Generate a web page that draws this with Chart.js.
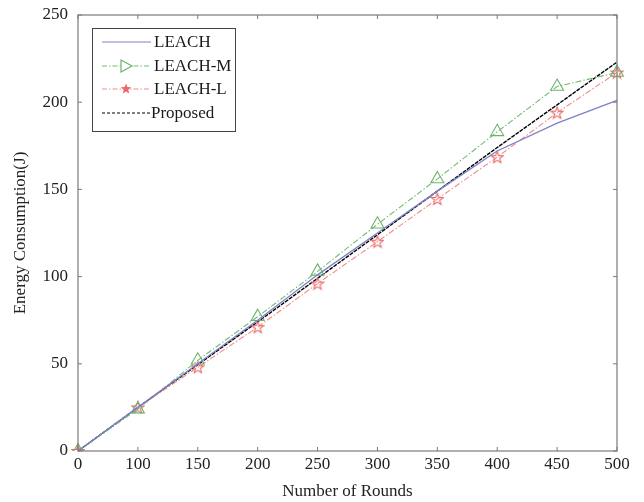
<!DOCTYPE html>
<html><head><meta charset="utf-8">
<script src="https://cdn.jsdelivr.net/npm/chart.js@4"></script>
<style>html,body{margin:0;padding:0;background:#fff;}#wrap{width:644px;height:502px;}</style>
</head><body><div id="wrap"><canvas id="c" width="644" height="502"></canvas></div>
<script>
const rounds = ['0','100','150','200','250','300','350','400','450','500'];
const leach  = [0, 25, 50, 75, 101, 125, 149, 172, 188, 201];
const leachM = [0, 24, 52, 77, 103, 130, 156, 183, 209, 217];
const leachL = [0, 25, 48, 71, 96, 120, 144.5, 168.5, 194, 217];
const proposed = [0, 25, 49.5, 74, 99, 124, 149, 174, 198.5, 223];
const yTicks = [0, 50, 100, 150, 200, 250];

const FONT = '"Liberation Serif", "Times New Roman", serif';

function starPath(ctx, cx, cy, R, r) {
  ctx.beginPath();
  for (let k = 0; k < 10; k++) {
    const rad = k % 2 === 0 ? R : r;
    const ang = -Math.PI / 2 + k * Math.PI / 5;
    const px = cx + rad * Math.cos(ang), py = cy + rad * Math.sin(ang);
    if (k === 0) ctx.moveTo(px, py); else ctx.lineTo(px, py);
  }
  ctx.closePath();
}
const starImg = document.createElement('canvas');
starImg.width = 14; starImg.height = 14;
(function () {
  const c = starImg.getContext('2d');
  c.strokeStyle = '#ec6a6a'; c.lineWidth = 1.1;
  starPath(c, 7, 7.5, 6.2, 2.6); c.stroke();
})();

const frame = {
  id: 'frame',
  afterDatasetsDraw(chart) {
    const {ctx, chartArea: a, scales} = chart;
    ctx.save();
    ctx.strokeStyle = '#7a7a7a';
    ctx.lineWidth = 1.2;
    ctx.strokeRect(a.left, a.top, a.right - a.left, a.bottom - a.top);
    ctx.lineWidth = 1;
    const L = 4;
    scales.x.ticks.forEach((t, i) => {
      const x = scales.x.getPixelForTick(i);
      ctx.beginPath();
      ctx.moveTo(x, a.bottom); ctx.lineTo(x, a.bottom - L);
      ctx.moveTo(x, a.top); ctx.lineTo(x, a.top + L);
      ctx.stroke();
    });
    scales.y.ticks.forEach((t, i) => {
      const y = scales.y.getPixelForTick(i);
      ctx.beginPath();
      ctx.moveTo(a.left, y); ctx.lineTo(a.left + L, y);
      ctx.moveTo(a.right, y); ctx.lineTo(a.right - L, y);
      ctx.stroke();
    });
    ctx.restore();
  },
  afterDraw(chart) {
    const ctx = chart.ctx;
    const bx = 92, by = 28, bw = 143, bh = 103;
    ctx.save();
    ctx.fillStyle = '#fff';
    ctx.fillRect(bx, by, bw, bh);
    ctx.strokeStyle = '#444';
    ctx.lineWidth = 1;
    ctx.strokeRect(bx + 0.5, by + 0.5, bw, bh);
    const rows = [42, 66, 89, 113];
    ctx.font = '17px ' + FONT;
    ctx.textBaseline = 'middle';
    chart.data.datasets.forEach((ds, i) => {
      const y = rows[i];
      ctx.strokeStyle = ds.borderColor;
      ctx.lineWidth = 1.2;
      ctx.setLineDash(i === 3 ? [3, 2] : (i === 0 ? [] : [5, 2, 1.5, 2]));
      ctx.beginPath(); ctx.moveTo(102, y); ctx.lineTo(151, y); ctx.stroke();
      ctx.setLineDash([]);
      if (i === 1) {
        ctx.strokeStyle = ds.pointBorderColor;
        ctx.beginPath();
        ctx.moveTo(121, y - 6); ctx.lineTo(132, y); ctx.lineTo(121, y + 6); ctx.closePath();
        ctx.fillStyle = '#fff'; ctx.fill(); ctx.stroke();
      }
      if (i === 2) {
        starPath(ctx, 126, y, 5.5, 2.4);
        ctx.fillStyle = '#ec6a6a'; ctx.fill();
      }
      ctx.fillStyle = '#1a1a1a';
      ctx.fillText(ds.label, i === 3 ? 151 : 154, y + 1);
    });
    ctx.restore();
  }
};

new Chart(document.getElementById('c'), {
  type: 'line',
  data: {
    labels: rounds,
    datasets: [
      { label: 'LEACH', data: leach, borderColor: '#7c80c8', borderWidth: 1.3, pointRadius: 0, tension: 0 },
      { label: 'LEACH-M', data: leachM, borderColor: '#74bb74', pointBorderColor: '#6cb46c', borderWidth: 1.1,
        borderDash: [6, 2, 1.5, 2], pointStyle: 'triangle', pointRadius: 7.5, pointBackgroundColor: 'rgba(255,255,255,0)', pointBorderWidth: 1.1 },
      { label: 'LEACH-L', data: leachL, borderColor: '#f48c8c', pointBorderColor: '#ec6a6a', borderWidth: 1.1,
        borderDash: [6, 2, 1.5, 2], pointStyle: starImg, pointRadius: 6, pointBackgroundColor: 'rgba(255,255,255,0)', pointBorderWidth: 1.1 },
      { label: 'Proposed', data: proposed, borderColor: '#000', borderWidth: 1.4, borderDash: [4, 1], pointRadius: 0 }
    ]
  },
  options: {
    responsive: false,
    animation: false,
    layout: { padding: { top: 15, right: 27, left: 10, bottom: 0 } },
    plugins: { legend: { display: false }, tooltip: { enabled: false } },
    scales: {
      x: {
        type: 'category',
        offset: false,
        grid: { display: false },
        border: { display: false },
        ticks: { color: '#222', font: { family: FONT, size: 17 }, padding: -5, maxRotation: 0, autoSkip: false },
        title: { display: true, text: 'Number of Rounds', color: '#222', font: { family: FONT, size: 17 }, padding: { top: 0, bottom: 0 } },
        afterFit(s) { s.height = 51; }
      },
      y: {
        min: 0, max: 250,
        afterBuildTicks(s) { s.ticks = yTicks.map(v => ({ value: v })); },
        grid: { display: false },
        border: { display: false },
        ticks: { color: '#222', font: { family: FONT, size: 17 }, padding: 2 },
        title: { display: true, text: 'Energy Consumption(J)', color: '#222', font: { family: FONT, size: 17 }, padding: { top: 0, bottom: 4 } },
        afterFit(s) { s.width = 68; }
      }
    }
  },
  plugins: [frame]
});
</script></body></html>
